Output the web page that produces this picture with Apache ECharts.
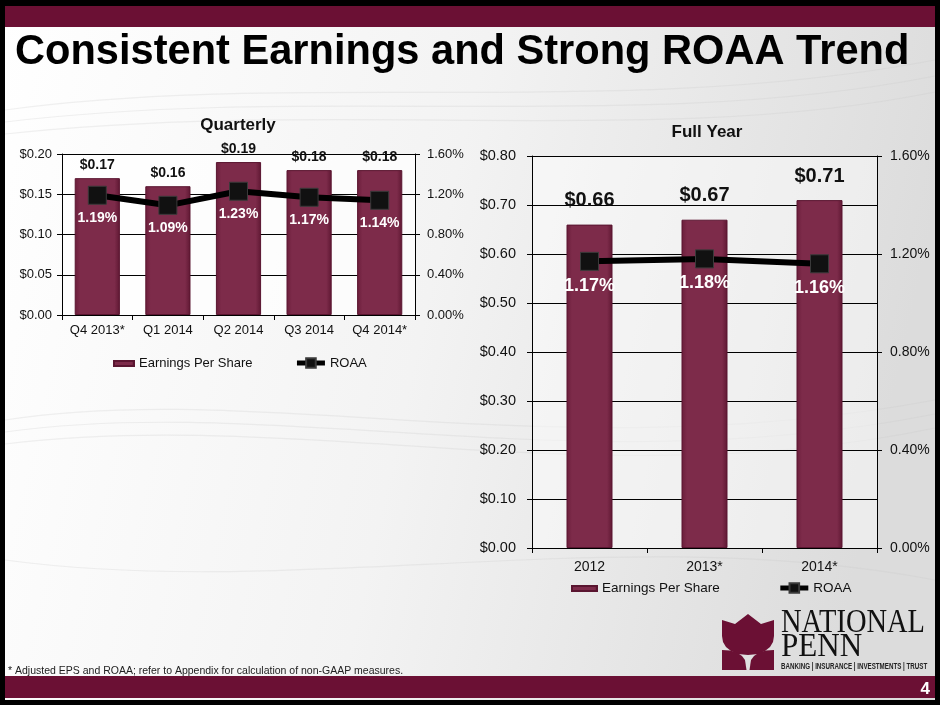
<!DOCTYPE html>
<html>
<head>
<meta charset="utf-8">
<script src="https://cdn.jsdelivr.net/npm/echarts@6/dist/echarts.min.js"></script>
<style>
  html, body { margin: 0; padding: 0; background: #000; }
  #main { width: 940px; height: 705px; }
</style>
</head>
<body>
<div id="main"></div>
<script>
// data
var quarters = ['Q4 2013*', 'Q1 2014', 'Q2 2014', 'Q3 2014', 'Q4 2014*'];
var quarterEps = [0.17, 0.16, 0.19, 0.18, 0.18];
var quarterRoaa = [1.19, 1.09, 1.23, 1.17, 1.14];

var years = ['2012', '2013*', '2014*'];
var yearEps = [0.66, 0.67, 0.71];
var yearRoaa = [1.17, 1.18, 1.16];

var maroon = '#6b1034';
var barColor = {
  type: 'linear', x: 0, y: 0, x2: 1, y2: 0,
  colorStops: [
    { offset: 0, color: '#6a1d3a' },
    { offset: 0.12, color: '#7d2b4a' },
    { offset: 0.88, color: '#7d2b4a' },
    { offset: 1, color: '#5e1732' }
  ]
};
var font = 'Liberation Sans, Arial, sans-serif';

var myChart = echarts.init(document.getElementById('main'));

function money(v) { return '$' + v.toFixed(2); }
function pct(v) { return v.toFixed(2) + '%'; }

var axisLine = { show: true, lineStyle: { color: '#000', width: 1 } };
var axisTick = { show: true, length: 5, lineStyle: { color: '#000' } };

// logo outline (decoration only)
var tulipCup = [[0, 6], [13, 10], [26, 0], [39, 10], [52, 6], [52, 22], [51, 28], [48, 33], [43, 37], [36, 40],
  [26, 41], [16, 40], [9, 37], [4, 33], [1, 28], [0, 22]];
var leafLeft = [[0, 36], [8, 36.5], [15, 38.5], [20, 42], [23, 46], [24.5, 56], [0, 56]];
var leafRight = leafLeft.map(function (p) { return [52 - p[0], p[1]]; });

// faint background swirls
var swirls = [];
[[5, 110, 300, 70, 620, 120, 935, 60], [5, 122, 320, 84, 640, 134, 935, 76], [5, 134, 340, 98, 660, 148, 935, 92],
 [5, 420, 260, 380, 560, 470, 935, 400], [5, 432, 280, 394, 580, 484, 935, 414], [5, 444, 300, 408, 600, 498, 935, 428],
 [5, 560, 300, 600, 620, 520, 935, 580]].forEach(function (c) {
  swirls.push({ type: 'bezierCurve', z: -8, silent: true,
    shape: { x1: c[0], y1: c[1], cpx1: c[2], cpy1: c[3], cpx2: c[4], cpy2: c[5], x2: c[6], y2: c[7] },
    style: { stroke: 'rgba(200,200,200,0.25)', lineWidth: 1.2, fill: null } });
});

var option = {
  animation: false,
  backgroundColor: '#000',
  textStyle: { fontFamily: font },
  graphic: [
    // slide body
    { type: 'rect', shape: { x: 5, y: 6, width: 930, height: 694 }, z: -10,
      style: { fill: { type: 'linear', x: 0, y: 0, x2: 1, y2: 0.3,
        colorStops: [{ offset: 0, color: '#ffffff' }, { offset: 0.5, color: '#f3f3f3' }, { offset: 1, color: '#dcdcdc' }] } } }
  ].concat(swirls).concat([
    { type: 'rect', shape: { x: 5, y: 6, width: 930, height: 21 }, z: -5, style: { fill: maroon } },
    { type: 'rect', shape: { x: 5, y: 676, width: 930, height: 22 }, z: -5, style: { fill: maroon } },
    { type: 'text', x: 15, y: 53, z: 5,
      style: { text: 'Consistent Earnings and Strong ROAA Trend', fill: '#000',
        font: 'bold 41.6px ' + font, textVerticalAlign: 'middle' } },
    { type: 'text', x: 238, y: 125, z: 5,
      style: { text: 'Quarterly', fill: '#111', font: 'bold 17px ' + font, textAlign: 'center', textVerticalAlign: 'middle' } },
    { type: 'text', x: 707, y: 132, z: 5,
      style: { text: 'Full Year', fill: '#111', font: 'bold 17px ' + font, textAlign: 'center', textVerticalAlign: 'middle' } },
    { type: 'text', x: 8, y: 671, z: 5,
      style: { text: '* Adjusted EPS and ROAA; refer to Appendix for calculation of non-GAAP measures.',
        fill: '#222', font: '10.5px ' + font, textVerticalAlign: 'middle' } },
    { type: 'text', x: 930, y: 689, z: 5,
      style: { text: '4', fill: '#fff', font: 'bold 17px ' + font, textAlign: 'right', textVerticalAlign: 'middle' } },
    // logo
    { type: 'group', x: 722, y: 614, z: 5, children: [
      { type: 'polygon', shape: { points: tulipCup }, style: { fill: maroon } },
      { type: 'polygon', shape: { points: leafLeft }, style: { fill: maroon } },
      { type: 'polygon', shape: { points: leafRight }, style: { fill: maroon } }
    ] },
    { type: 'text', x: 781, y: 640, scaleX: 0.77, scaleY: 0.92, z: 5,
      style: { text: 'NATIONAL', fill: '#111', font: '37px Liberation Serif, serif', textVerticalAlign: 'bottom' } },
    { type: 'text', x: 781, y: 664, scaleX: 0.84, scaleY: 0.92, z: 5,
      style: { text: 'PENN', fill: '#111', font: '37px Liberation Serif, serif', textVerticalAlign: 'bottom' } },
    { type: 'text', x: 781, y: 667, scaleX: 0.73, z: 5,
      style: { text: 'BANKING | INSURANCE | INVESTMENTS | TRUST', fill: '#222', font: 'bold 8.5px ' + font, textVerticalAlign: 'middle' } }
  ]),
  legend: [
    { left: 100, top: 351, itemGap: 42, itemWidth: 28, itemHeight: 12,
      textStyle: { fontSize: 13, color: '#111' }, lineStyle: { width: 5 },
      data: [{ name: 'Earnings Per Share', icon: 'path://M0,0 M28,12 M8,4 L28,4 L28,9 L8,9 Z' }, { name: 'ROAA' }] },
    { left: 563, top: 576, itemGap: 58, itemWidth: 28, itemHeight: 12,
      textStyle: { fontSize: 13.5, color: '#111' }, lineStyle: { width: 5 },
      data: [{ name: 'Earnings Per Share', icon: 'path://M0,0 M28,12 M3,4 L28,4 L28,9 L3,9 Z' }, { name: 'ROAA' }] }
  ],
  grid: [
    { left: 62, top: 154, width: 353, height: 161, show: true, borderWidth: 0, backgroundColor: 'rgba(255,255,255,0.7)' },
    { left: 532, top: 156, width: 345, height: 392, show: true, borderWidth: 0, backgroundColor: 'rgba(255,255,255,0.45)' }
  ],
  xAxis: [
    { type: 'category', gridIndex: 0, data: quarters, axisLine: axisLine, axisTick: axisTick,
      axisLabel: { color: '#111', fontSize: 13, margin: 9, interval: 0 } },
    { type: 'category', gridIndex: 1, data: years, axisLine: axisLine, axisTick: axisTick,
      axisLabel: { color: '#111', fontSize: 14, margin: 12, interval: 0 } }
  ],
  yAxis: [
    { type: 'value', gridIndex: 0, min: 0, max: 0.2, interval: 0.05, axisLine: axisLine, axisTick: axisTick,
      splitLine: { lineStyle: { color: '#000', width: 1 } },
      axisLabel: { color: '#111', fontSize: 13, margin: 10, formatter: money } },
    { type: 'value', gridIndex: 0, position: 'right', min: 0, max: 1.6, interval: 0.4, axisLine: axisLine, axisTick: axisTick,
      splitLine: { show: false },
      axisLabel: { color: '#111', fontSize: 13, margin: 12, formatter: pct } },
    { type: 'value', gridIndex: 1, min: 0, max: 0.8, interval: 0.1, axisLine: axisLine, axisTick: axisTick,
      splitLine: { lineStyle: { color: '#000', width: 1 } },
      axisLabel: { color: '#111', fontSize: 14.5, margin: 16, formatter: money } },
    { type: 'value', gridIndex: 1, position: 'right', min: 0, max: 1.6, interval: 0.4, axisLine: axisLine, axisTick: axisTick,
      splitLine: { show: false },
      axisLabel: { color: '#111', fontSize: 14, margin: 13, formatter: pct } }
  ],
  series: [
    { name: 'Earnings Per Share', type: 'bar', xAxisIndex: 0, yAxisIndex: 0, data: quarterEps, barWidth: '64%',
      itemStyle: { color: barColor, borderColor: '#5a1530', borderWidth: 1 },
      label: { show: true, position: 'top', distance: 6, color: '#111', fontWeight: 'bold', fontSize: 14, formatter: function (p) { return money(p.value); } } },
    { name: 'ROAA', type: 'line', xAxisIndex: 0, yAxisIndex: 1, data: quarterRoaa,
      symbol: 'rect', symbolSize: 18, lineStyle: { color: '#000', width: 6 },
      itemStyle: { color: '#111', borderColor: '#3a3a3a', borderWidth: 1 },
      label: { show: true, position: 'bottom', distance: 6, color: '#fff', fontWeight: 'bold', fontSize: 14, formatter: function (p) { return pct(p.value); } } },
    { name: 'Earnings Per Share', type: 'bar', xAxisIndex: 1, yAxisIndex: 2, data: yearEps, barWidth: '40%',
      itemStyle: { color: barColor, borderColor: '#5a1530', borderWidth: 1 },
      label: { show: true, position: 'top', distance: 14, color: '#111', fontWeight: 'bold', fontSize: 20, formatter: function (p) { return money(p.value); } } },
    { name: 'ROAA', type: 'line', xAxisIndex: 1, yAxisIndex: 3, data: yearRoaa,
      symbol: 'rect', symbolSize: 18, lineStyle: { color: '#000', width: 6 },
      itemStyle: { color: '#111', borderColor: '#3a3a3a', borderWidth: 1 },
      label: { show: true, position: 'bottom', distance: 6, color: '#fff', fontWeight: 'bold', fontSize: 18, formatter: function (p) { return pct(p.value); } } }
  ]
};

myChart.setOption(option);
</script>
</body>
</html>
